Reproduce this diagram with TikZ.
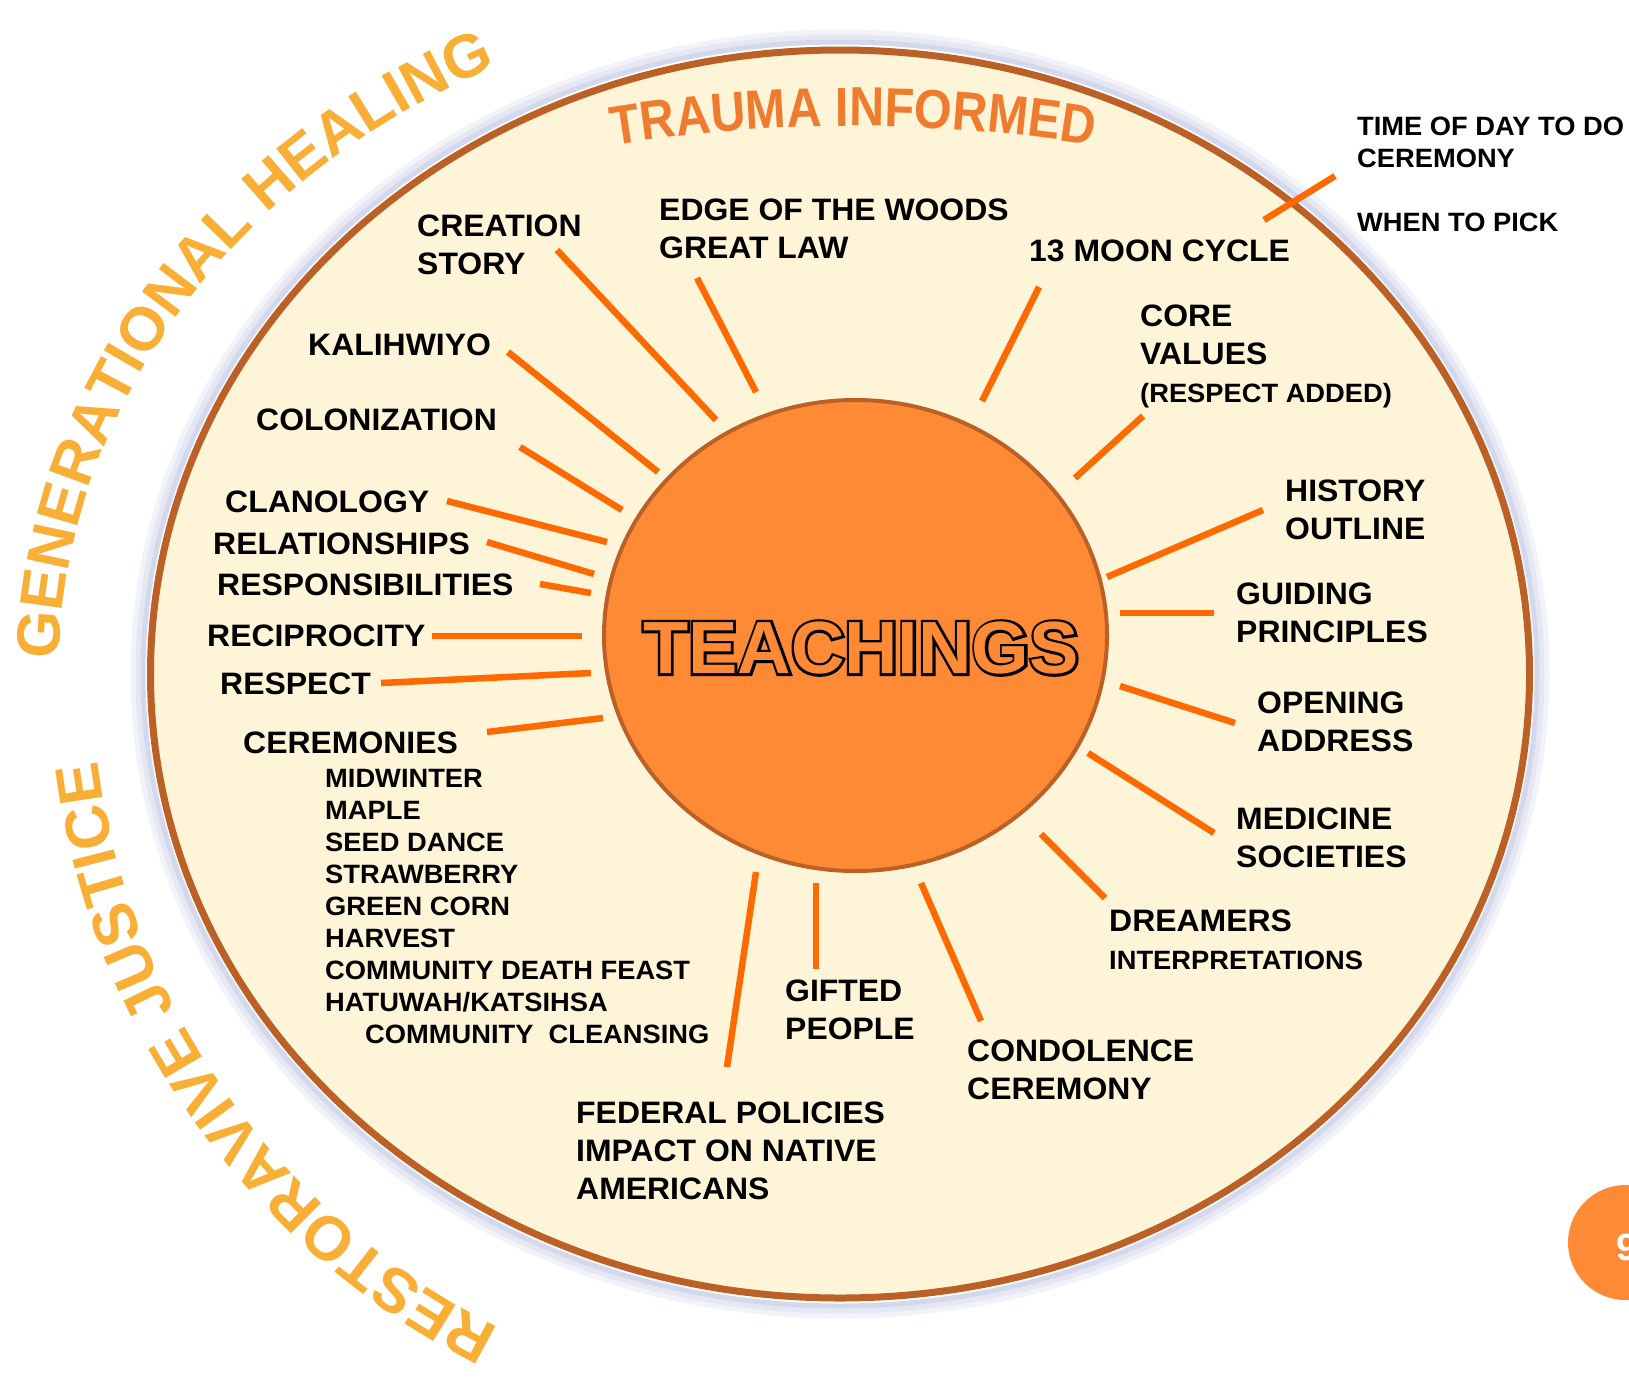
\documentclass[tikz,border=0pt]{standalone}
\usepackage{fontspec}
\setmainfont{Liberation Sans}
\newfontfamily\lblfont[FakeStretch=1.03]{Liberation Sans}
\newfontfamily\archfont[FakeStretch=0.88]{Liberation Sans}
\newfontface\teachstroke[FakeBold=7]{Liberation Sans Bold}
\usepackage{tikz}
\usetikzlibrary{shapes.geometric}
\usetikzlibrary{decorations.text}
\definecolor{cream}{HTML}{FEF4D7}
\definecolor{rimbrown}{HTML}{BB6127}
\definecolor{hubfill}{HTML}{FF8A35}
\definecolor{rayorange}{HTML}{FF6A00}
\definecolor{glowblue}{HTML}{A9B3DA}
\definecolor{archgold}{HTML}{F9AE35}
\definecolor{traumaorange}{HTML}{EF7B2E}
\tikzset{
ray/.style={draw=rayorange, line width=6.5pt},
lbl/.style={anchor=north west, inner sep=0pt, align=left, font=\lblfont\fontsize{31}{38}\selectfont\bfseries},
smalllbl/.style={anchor=north west, inner sep=0pt, align=left, font=\lblfont\fontsize{26.5}{32}\selectfont\bfseries},
glow/.style={draw=glowblue, line width=5pt},
teach/.style={inner sep=0pt, font=\fontsize{74}{74}\selectfont\bfseries}}

\begin{document}
\begin{tikzpicture}[x=1pt, y=-1pt]

                \clip (0,0) rectangle (1629,1393);
                \fill[white] (0,0) rectangle (1629,1393);

                \draw[glow, opacity=0.15] (840,674) ellipse [x radius=707, y radius=642];
                \draw[glow, opacity=0.3] (840,674) ellipse [x radius=702, y radius=637];
                \draw[glow, opacity=0.5] (840,674) ellipse [x radius=697, y radius=632];
                \node[shape=ellipse, draw=rimbrown, line width=7pt, fill=cream, minimum width=1379pt, minimum height=1248pt, inner sep=0pt] (rim) at (840,674) {};

                \path[decorate, decoration={text along path, text align=center,
                    text={|\fontsize{61}{61}\selectfont\bfseries\color{archgold}|GENERATIONAL HEALING}}]
                    (840,674) ++(-188:781 and 677) arc[start angle=-188, end angle=-108, x radius=781, y radius=677];
                \path[decorate, decoration={text along path, text align=center,
                    text={|\fontsize{62}{62}\selectfont\bfseries\color{archgold}|RESTORAVIVE JUSTICE}}]
                    (840,674) ++(-254.75:747 and 735) arc[start angle=-254.75, end angle=-174.75, x radius=747, y radius=735];
                \path[decorate, decoration={text along path, text align=center,
                    text={|\archfont\fontsize{55}{55}\selectfont\bfseries\color{traumaorange}|TRAUMA INFORMED}}]
                    (853,1626) ++(-104:1500) arc[start angle=-104, end angle=-76, radius=1500];

                \node[shape=ellipse, draw=rimbrown, line width=4pt, fill=hubfill, minimum width=503pt, minimum height=471pt, inner sep=0pt] (hub) at (855.5,635.5) {};
                \node[teach, text=black, font=\teachstroke\fontsize{74}{74}\selectfont] (teachline) at (861,648) {TEACHINGS};
                \node[teach, text=hubfill] (teachings) at (861,648) {TEACHINGS};

                \node[lbl] (creation) at (417,215) {CREATION\\STORY};
                \node[lbl] (edge) at (659,199) {EDGE OF THE WOODS\\GREAT LAW};
                \node[lbl] (moon) at (1029,240) {13 MOON CYCLE};
                \node[lbl] (core) at (1140,304.5) {CORE\\VALUES\\{\fontsize{26.5}{38}\selectfont(RESPECT ADDED)}};
                \node[smalllbl] (timeofday) at (1357,117) {TIME OF DAY TO DO\\CEREMONY\\[32pt]WHEN TO PICK};
                \node[lbl] (history) at (1285,480) {HISTORY\\OUTLINE};
                \node[lbl] (guiding) at (1236,583) {GUIDING\\PRINCIPLES};
                \node[lbl] (opening) at (1257,692) {OPENING\\ADDRESS};
                \node[lbl] (medicine) at (1236,808) {MEDICINE\\SOCIETIES};
                \node[lbl] (dreamers) at (1109,910) {DREAMERS\\{\fontsize{26.5}{37}\selectfont INTERPRETATIONS}};
                \node[lbl] (condolence) at (967,1040) {CONDOLENCE\\CEREMONY};
                \node[lbl] (gifted) at (785,980) {GIFTED\\PEOPLE};
                \node[lbl] (federal) at (576,1102) {FEDERAL POLICIES\\IMPACT ON NATIVE\\AMERICANS};
                \node[lbl] (ceremonies) at (243,732) {CEREMONIES};
                \node[smalllbl] (ceremonylist) at (325,769) {MIDWINTER\\MAPLE\\SEED DANCE\\STRAWBERRY\\GREEN CORN\\HARVEST\\COMMUNITY DEATH FEAST\\HATUWAH/KATSIHSA\\\hspace*{40pt}COMMUNITY~~CLEANSING};
                \node[lbl] (respect) at (220,673) {RESPECT};
                \node[lbl] (reciprocity) at (207,625) {RECIPROCITY};
                \node[lbl] (responsibilities) at (217,574) {RESPONSIBILITIES};
                \node[lbl] (relationships) at (213,533) {RELATIONSHIPS};
                \node[lbl] (clanology) at (225,491) {CLANOLOGY};
                \node[lbl] (colonization) at (256,408.5) {COLONIZATION};
                \node[lbl] (kalihwiyo) at (308,334) {KALIHWIYO};

                \coordinate (creation-o) at (557,250);  \coordinate (creation-i) at (716,420);
                \coordinate (edge-o) at (697,278);      \coordinate (edge-i) at (756,392);
                \coordinate (moon-o) at (1039,287);     \coordinate (moon-i) at (982,401);
                \coordinate (core-o) at (1143,416);     \coordinate (core-i) at (1075,478);
                \coordinate (time-o) at (1335,176);     \coordinate (time-i) at (1264,220);
                \coordinate (history-o) at (1263,510);  \coordinate (history-i) at (1107,577);
                \coordinate (guiding-o) at (1214,613);  \coordinate (guiding-i) at (1120,613);
                \coordinate (opening-o) at (1235,723);  \coordinate (opening-i) at (1120,686);
                \coordinate (medicine-o) at (1214,833); \coordinate (medicine-i) at (1088,753);
                \coordinate (dreamers-o) at (1105,898); \coordinate (dreamers-i) at (1041,834);
                \coordinate (condol-o) at (981,1021);   \coordinate (condol-i) at (921,883);
                \coordinate (gifted-o) at (816,969);    \coordinate (gifted-i) at (816,883);
                \coordinate (federal-o) at (727,1067);  \coordinate (federal-i) at (756,872);
                \coordinate (cerem-o) at (487,732);     \coordinate (cerem-i) at (603,718);
                \coordinate (respect-o) at (381,683);   \coordinate (respect-i) at (591,673);
                \coordinate (recip-o) at (432,636);     \coordinate (recip-i) at (582,636);
                \coordinate (respons-o) at (540,584);   \coordinate (respons-i) at (591,593);
                \coordinate (relat-o) at (487,542);     \coordinate (relat-i) at (594,574);
                \coordinate (clan-o) at (447,501);      \coordinate (clan-i) at (607,542);
                \coordinate (colon-o) at (520,447);     \coordinate (colon-i) at (622,510);
                \coordinate (kali-o) at (508,352);      \coordinate (kali-i) at (658,472);

                \draw[ray] (creation-o) -- (creation-i);
                \draw[ray] (edge-o) -- (edge-i);
                \draw[ray] (moon-o) -- (moon-i);
                \draw[ray] (core-o) -- (core-i);
                \draw[ray] (time-o) -- (time-i);
                \draw[ray] (history-o) -- (history-i);
                \draw[ray] (guiding-o) -- (guiding-i);
                \draw[ray] (opening-o) -- (opening-i);
                \draw[ray] (medicine-o) -- (medicine-i);
                \draw[ray] (dreamers-o) -- (dreamers-i);
                \draw[ray] (condol-o) -- (condol-i);
                \draw[ray] (gifted-o) -- (gifted-i);
                \draw[ray] (federal-o) -- (federal-i);
                \draw[ray] (cerem-o) -- (cerem-i);
                \draw[ray] (respect-o) -- (respect-i);
                \draw[ray] (recip-o) -- (recip-i);
                \draw[ray] (respons-o) -- (respons-i);
                \draw[ray] (relat-o) -- (relat-i);
                \draw[ray] (clan-o) -- (clan-i);
                \draw[ray] (colon-o) -- (colon-i);
                \draw[ray] (kali-o) -- (kali-i);

                \node[shape=circle, fill=hubfill, minimum size=115pt, inner sep=0pt] (page) at (1625.5,1242.5) {};
                \node[anchor=west, inner sep=0pt, text=white, font=\fontsize{38}{38}\selectfont\bfseries] (pagenum) at (1616,1247) {9};

            \end{tikzpicture}
\end{document}
